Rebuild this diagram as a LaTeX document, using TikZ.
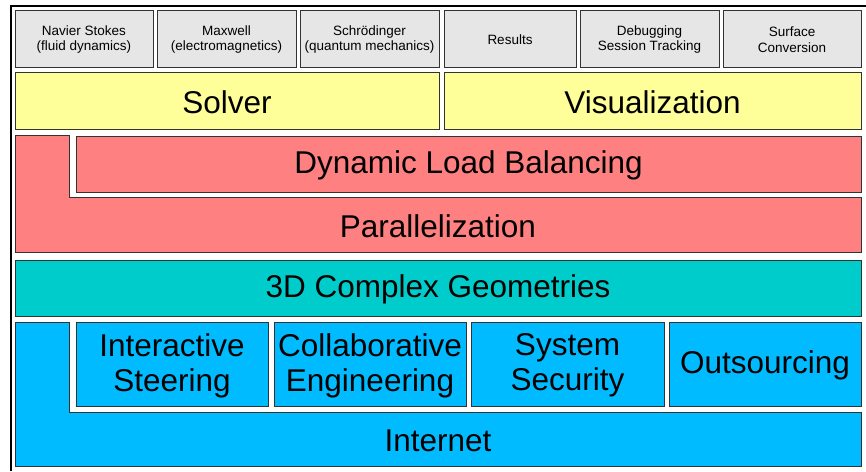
\documentclass[tikz,border=0pt]{standalone}
\usepackage{fontspec}
\setmainfont{Liberation Sans}
\definecolor{cgray}{HTML}{E6E6E6}
\definecolor{cyel}{HTML}{FFFF99}
\definecolor{cred}{HTML}{FF8080}
\definecolor{cteal}{HTML}{00CCCC}
\definecolor{cblue}{HTML}{00BBFF}
\definecolor{cedge}{HTML}{333333}
\begin{document}
\begin{tikzpicture}[x=1pt,y=-1pt,
  box/.style={draw=cedge,line width=1pt},
  small/.style={font=\fontsize{13.5}{15.5}\selectfont,align=center,inner sep=0pt,yshift=-1pt},
  big/.style={font=\fontsize{31.5}{35}\selectfont,align=center,inner sep=0pt,yshift=-1.5pt}]
\useasboundingbox (0,0) rectangle (866,471);
\fill[white] (0,0) rectangle (866,471);
% outer frame
\coordinate (fa) at (11,471);
\coordinate (fb) at (11,6);
\coordinate (fc) at (866,6);
\draw[line width=1.5pt,black] (fa) -- (fb) -- (fc);
% top row
\foreach \xa/\xb/\nm/\txt in {15/153/ns/{Navier Stokes\\(fluid dynamics)},
  157/296/mx/{Maxwell\\(electromagnetics)},
  300/439/sc/{Schrödinger\\(quantum mechanics)},
  444/576/rs/{Results},
  580/719/db/{Debugging\\Session Tracking},
  723/861/sf/{Surface\\Conversion}}{
  \draw[box,fill=cgray] (\xa,10) rectangle (\xb,67);
  \node[small] (\nm) at ({(\xa+\xb)/2},38.5) {\txt};
}
% yellow
\draw[box,fill=cyel] (15,72) rectangle (439,129);
\node[big] (solver) at (227,100.5) {Solver};
\draw[box,fill=cyel] (444,72) rectangle (861,129);
\node[big] (vis) at (652.5,100.5) {Visualization};
% red
\draw[box,fill=cred] (15,135) -- (69,135) -- (69,197) -- (861,197) -- (861,252) -- (15,252) -- cycle;
\node[big] (par) at (438,224.5) {Parallelization};
\draw[box,fill=cred] (76,136) rectangle (861,192);
\node[big] (dlb) at (468.5,164) {Dynamic Load Balancing};
% teal
\draw[box,fill=cteal] (15,260) rectangle (861,316);
\node[big] (geo) at (438,288) {3D Complex Geometries};
% blue
\draw[box,fill=cblue] (15,322) -- (69,322) -- (69,412) -- (861,412) -- (861,466) -- (15,466) -- cycle;
\node[big] (inet) at (438,439) {Internet};
\foreach \xa/\xb/\nm/\txt in {76/268/is/{Interactive\\Steering},
  274/466/ce/{Collaborative\\Engineering},
  471/664/ss/{System\\Security},
  669/861/os/{Outsourcing}}{
  \draw[box,fill=cblue] (\xa,322) rectangle (\xb,406);
  \node[big] (\nm) at ({(\xa+\xb)/2},364) {\txt};
}
\end{tikzpicture}
\end{document}
